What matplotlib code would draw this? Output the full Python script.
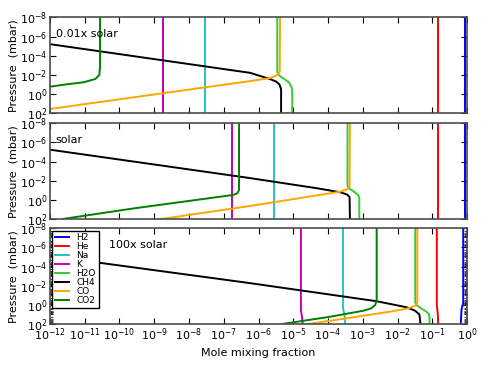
import numpy as np
import matplotlib
matplotlib.use('Agg')
import matplotlib.pyplot as plt
from matplotlib.ticker import LogLocator, NullLocator


# species and colours
species = ['H2', 'He', 'Na', 'K', 'H2O', 'CH4', 'CO', 'CO2']
colors = ['#0000ff', '#ff0000', '#22c4c4', '#bf00bf', '#33cc33', 'k', '#ffa500', '#008000']
panel_labels = ['0.01x solar', 'solar', '100x solar']

# curves: (log10 pressure [mbar], log10 mole fraction)
# 0.01x solar
h2_a = ([-8, 2], [-0.07, -0.07])
he_a = ([-8, 2], [-0.84, -0.84])
na_a = ([-8, 2], [-7.54, -7.54])
k_a = ([-8, 2], [-8.76, -8.76])
h2o_a = ([-8, -2.3, -2.0, -1.7, -1.2, -0.7, -0.3, 2],
         [-5.46, -5.46, -5.43, -5.32, -5.12, -5.05, -5.03, -5.03])
ch4_a = ([-8, -5.2, -2.2, -1.55, -1.3, -1.0, -0.5, 2],
         [-17.2, -12, -6.24, -5.67, -5.5, -5.40, -5.35, -5.35])
co_a = ([2, 1.58, -1.34, -1.65, -1.9, -2.1, -2.4, -8],
        [-12.82, -12, -6.24, -5.67, -5.50, -5.42, -5.39, -5.38])
co2_a = ([0.5, -0.75, -1.0, -1.21, -1.55, -1.97, -2.84, -8],
         [-14.5, -12, -11.52, -11.04, -10.70, -10.58, -10.56, -10.56])

# solar
h2_b = ([-8, 2], [-0.07, -0.07])
he_b = ([-8, 2], [-0.84, -0.84])
na_b = ([-8, 2], [-5.545, -5.545])
k_b = ([-8, 2], [-6.75, -6.75])
h2o_b = ([-8, -1.5, -1.2, -0.9, -0.5, -0.2, 2],
         [-3.44, -3.44, -3.40, -3.27, -3.13, -3.10, -3.10])
ch4_b = ([-8, -5.24, -2.27, -1.2, -0.79, -0.55, -0.3, 2],
         [-17.3, -12, -6.24, -4.3, -3.65, -3.45, -3.38, -3.37])
co_b = ([2, 0.64, -0.85, -1.1, -1.4, -8],
        [-8.79, -6.24, -3.65, -3.45, -3.38, -3.37])
co2_b = ([2, 0.9, -0.51, -0.69, -1.03, -8],
         [-11.63, -9.6, -6.73, -6.61, -6.56, -6.56])

# 100x solar
h2_c = ([-8, -0.2, 0.5, 2], [-0.11, -0.11, -0.16, -0.18])
he_c = ([-8, 0, 1, 2], [-0.87, -0.87, -0.84, -0.83])
na_c = ([-8, 0.3, 1.2, 2], [-3.57, -3.57, -3.52, -3.51])
k_c = ([-8, 0.5, 1.5, 2], [-4.78, -4.78, -4.74, -4.73])
h2o_c = ([-8, -0.3, 0.0, 0.3, 0.7, 1.0, 1.3, 2],
         [-1.49, -1.49, -1.46, -1.35, -1.17, -1.09, -1.08, -1.08])
ch4_c = ([-8, -5.1, -2.3, -0.38, 0.25, 0.6, 1.0, 2],
         [-17.7, -12, -6.3, -2.6, -1.74, -1.5, -1.37, -1.34])
co_c = ([2, 1.4, 0.7, 0.36, 0.1, -0.15, -0.4, -8],
        [-4.57, -3.46, -2.2, -1.69, -1.5, -1.44, -1.43, -1.43])
co2_c = ([-8, -0.6, 0.0, 0.35, 0.61, 1.24, 2],
         [-2.60, -2.60, -2.64, -2.75, -2.98, -3.94, -5.32])

panels = [[h2_a, he_a, na_a, k_a, h2o_a, ch4_a, co_a, co2_a],
          [h2_b, he_b, na_b, k_b, h2o_b, ch4_b, co_b, co2_b],
          [h2_c, he_c, na_c, k_c, h2o_c, ch4_c, co_c, co2_c]]

xticks = [10.0**e for e in range(-12, 1)]
yticks = [10.0**e for e in range(-8, 3, 2)]

fontsize = 8
fig = plt.figure(figsize=(4.91, 3.70), dpi=100)
axes_box = [(0.1018, 0.6946, 0.8494, 0.2584),
            (0.1018, 0.4082, 0.8494, 0.2586),
            (0.1018, 0.1243, 0.8494, 0.2586)]

for i, curves in enumerate(panels):
    ax = fig.add_axes(axes_box[i])
    for (lp, lx), name, c in zip(curves, species, colors):
        ax.plot(10.0**np.array(lx), 10.0**np.array(lp), color=c, lw=1.4, label=name)
    ax.set_xscale('log')
    ax.set_yscale('log')
    ax.set_xlim(1e-12, 1)
    ax.set_ylim(1e2, 1e-8)
    ax.set_xticks(xticks)
    ax.set_yticks(yticks)
    ax.xaxis.set_minor_locator(NullLocator())
    if i == 2:
        ax.yaxis.set_minor_locator(LogLocator(base=10, subs=np.arange(2, 10), numticks=30))
    else:
        ax.yaxis.set_minor_locator(NullLocator())
    ax.tick_params(which='both', direction='in', top=True, right=True, labelsize=fontsize)
    ax.tick_params(which='major', length=4, width=0.8, pad=2)
    ax.tick_params(which='minor', length=2, width=0.5)
    if i < 2:
        ax.set_xticklabels([])
    for s in ax.spines.values():
        s.set_color('0.3')
        s.set_linewidth(1.2)
    ax.set_ylabel('Pressure  (mbar)', fontsize=fontsize, labelpad=1)
    tx = 0.142 if i == 2 else 0.014
    ax.text(tx, 0.83, panel_labels[i], transform=ax.transAxes, fontsize=fontsize, va='center')

ax.set_xlabel('Mole mixing fraction', fontsize=fontsize, labelpad=3)
leg = ax.legend(loc='upper left', fontsize=6.5, handlelength=1.6, labelspacing=0.0,
                borderaxespad=0.25, borderpad=0.3, handletextpad=0.8, fancybox=False,
                framealpha=1)
leg.get_frame().set_edgecolor('k')

plt.savefig('out.png', dpi=100)
